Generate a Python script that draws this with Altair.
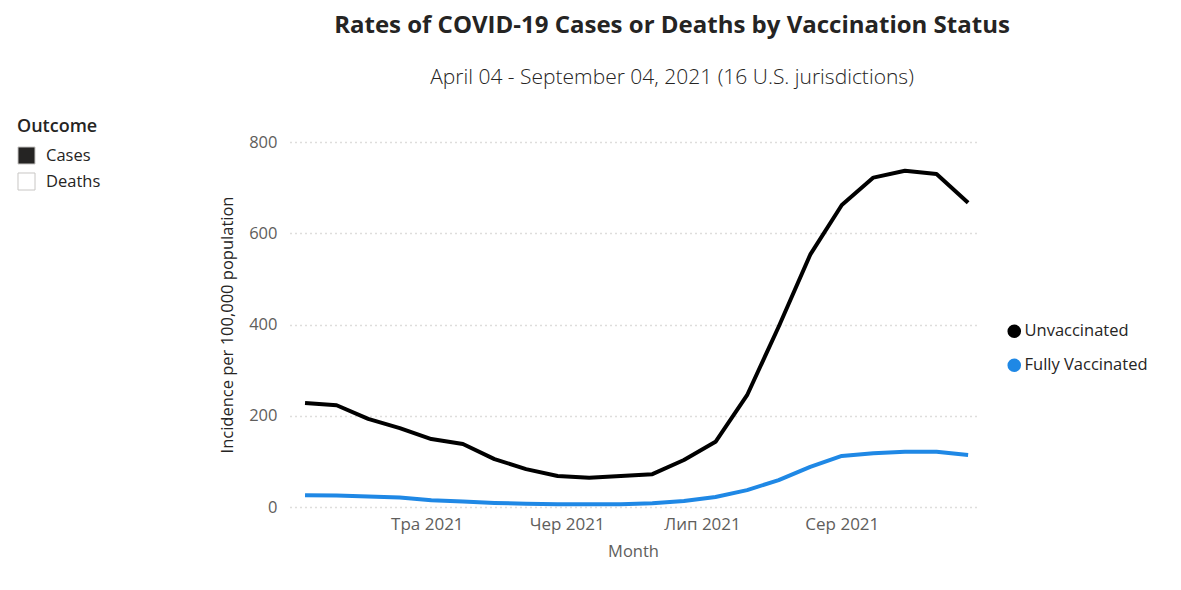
import altair as alt
import pandas as pd

# ---- data ----
weeks = ["2021-04-04", "2021-04-11", "2021-04-18", "2021-04-25", "2021-05-02",
         "2021-05-09", "2021-05-16", "2021-05-23", "2021-05-30", "2021-06-06",
         "2021-06-13", "2021-06-20", "2021-06-27", "2021-07-04", "2021-07-11",
         "2021-07-18", "2021-07-25", "2021-08-01", "2021-08-08", "2021-08-15",
         "2021-08-22", "2021-08-29"]
unvaccinated = [228, 223, 193, 173, 149, 138, 105, 83, 68, 64, 68, 72, 103, 143,
                245, 395, 553, 662, 722, 737, 730, 667]
fully_vaccinated = [26, 25, 23, 21, 15, 12, 9, 7, 6, 6, 6, 8, 13, 22, 37, 59, 88,
                    112, 118, 121, 121, 114]
series_names = ["Unvaccinated", "Fully Vaccinated"]
series_colors = ["#000000", "#1F88E5"]
outcomes = ["Cases", "Deaths"]
outcome_colors = ["#252423", "#FFFFFF"]
tick_dates = ["2021-05-01", "2021-06-01", "2021-07-01", "2021-08-01"]
tick_labels = ["Тра 2021", "Чер 2021", "Лип 2021", "Сер 2021"]
y_ticks = [0, 200, 400, 600, 800]

rows = []
for d, u, v in zip(weeks, unvaccinated, fully_vaccinated):
    rows.append({"date": d, "status": series_names[0], "value": u})
    rows.append({"date": d, "status": series_names[1], "value": v})
df = pd.DataFrame(rows)
outcome_df = pd.DataFrame({"outcome": outcomes})

FONT = "Open Sans"


def dt(s, hours=0):
    y, m, d = (int(p) for p in s.split("-"))
    return alt.DateTime(year=y, month=m, date=d, hours=hours, utc=True)


label_expr = ""
for d, lab in zip(tick_dates, tick_labels):
    label_expr += f"utcFormat(datum.value, '%Y-%m-%d') == '{d}' ? '{lab}' : "
label_expr += "''"

x_enc = alt.X(
    "date:T",
    scale=alt.Scale(type="utc", domain=[dt("2021-03-31", 16), dt("2021-08-30", 18)]),
    axis=alt.Axis(
        title="Month", values=[dt(d) for d in tick_dates], labelExpr=label_expr,
        grid=False, domain=False, ticks=False, labelPadding=9, titlePadding=11,
        labelFontSize=17, titleFontSize=16.5, labelColor="#605E5C", titleColor="#605E5C",
        labelFont=FONT, titleFont=FONT, titleFontWeight="normal",
    ),
)
y_enc = alt.Y(
    "value:Q",
    scale=alt.Scale(domain=[0, 800], nice=False),
    axis=alt.Axis(
        title="Incidence per 100,000 population", values=y_ticks,
        grid=True, gridDash=[1, 4], gridColor="#BEBCBA", gridWidth=1.3,
        domain=False, ticks=False, labelPadding=13, titlePadding=13,
        labelFontSize=16.5, titleFontSize=16.5, labelColor="#605E5C", titleColor="#252423",
        labelFont=FONT, titleFont=FONT, titleFontWeight="normal",
    ),
)

lines = alt.Chart(df).mark_line(strokeWidth=4, strokeJoin="round").encode(
    x=x_enc, y=y_enc,
    color=alt.Color("status:N", scale=alt.Scale(domain=series_names, range=series_colors),
                    legend=None),
    detail="status:N",
)

legend_pts = alt.Chart(df).mark_circle(opacity=0).encode(
    x=alt.X("date:T"), y=alt.Y("value:Q"),
    fill=alt.Fill(
        "status:N", scale=alt.Scale(domain=series_names, range=series_colors),
        sort=series_names,
        legend=alt.Legend(
            title=None, orient="none", legendX=716, legendY=181,
            symbolType="circle", symbolSize=185, symbolOpacity=1,
            symbolStrokeWidth=0,
            labelFontSize=16.5, labelColor="#252423", labelFont=FONT,
            labelOffset=2, rowPadding=17,
        ),
    ),
)

outcome_layer = alt.Chart(outcome_df).mark_square(opacity=0, size=1).encode(
    x=alt.value(0), y=alt.value(0),
    fill=alt.Fill(
        "outcome:N", scale=alt.Scale(domain=outcomes, range=outcome_colors),
        sort=outcomes,
        legend=alt.Legend(
            title="Outcome", orient="none", legendX=-273, legendY=-24,
            symbolType="square", symbolSize=290, symbolOpacity=1,
            symbolStrokeColor="#C8C6C4", symbolStrokeWidth=1,
            titleFontSize=18, titleFont=FONT, titleColor="#252423", titleFontWeight=600,
            titlePadding=10,
            labelFontSize=16.5, labelColor="#252423", labelFont=FONT,
            labelOffset=10, rowPadding=3,
        ),
    ),
)

chart = alt.layer(lines, legend_pts, outcome_layer).resolve_scale(
    fill="independent"
).properties(
    width=686,
    height=365,
    autosize=alt.AutoSizeParams(type="none"),
    padding={"left": 282, "top": 134, "right": 190, "bottom": 65},
    title=alt.TitleParams(
        text="Rates of COVID-19 Cases or Deaths by Vaccination Status",
        subtitle="April 04 - September 04, 2021 (16 U.S. jurisdictions)",
        anchor="middle", dx=39, offset=30,
        fontSize=24, fontWeight="bold", color="#252423", font=FONT,
        subtitleFontSize=21, subtitleColor="#252423", subtitleFont=FONT,
        subtitleFontWeight=300, subtitlePadding=29,
    ),
).configure_view(stroke=None)

chart.save("out.html", embed_options={"renderer": "svg", "actions": False})
